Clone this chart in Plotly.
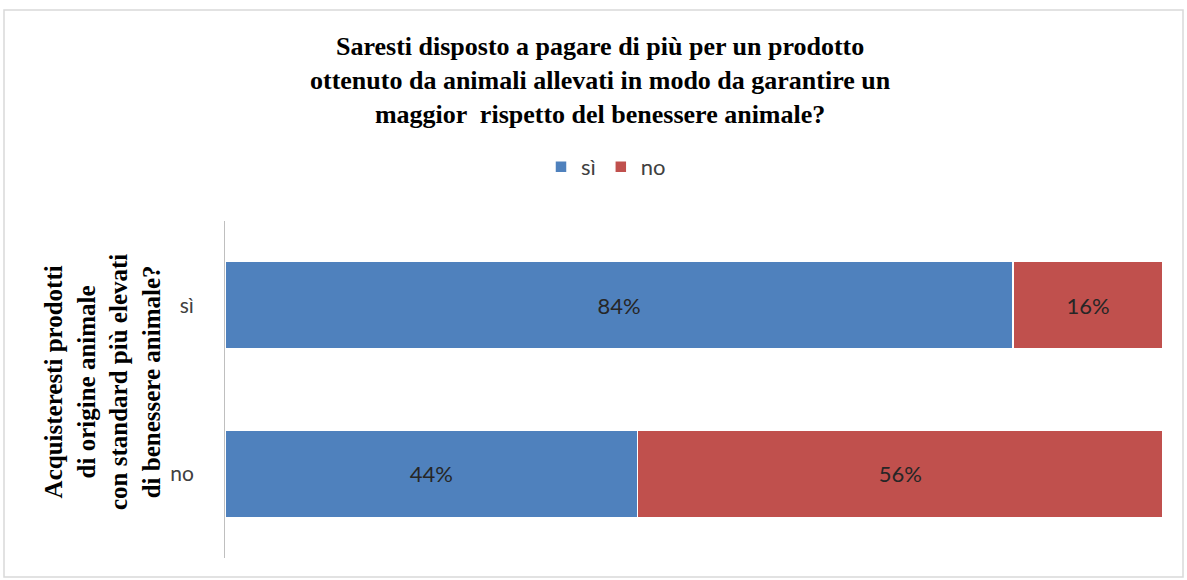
import plotly.graph_objects as go

categories = ["sì", "no"]
series_names = ["sì", "no"]
si_values = [84, 44]
no_values = [16, 56]
colors = {"sì": "#4F81BD", "no": "#C0504D"}

W, H = 1187, 580
L, R, T, B = 225, 24, 221, 22
pw = W - L - R
ph = H - T - B

SANS = "Lato, Liberation Sans, sans-serif"
SERIF = "Liberation Serif"

fig = go.Figure()
for name, vals in zip(series_names, [si_values, no_values]):
    fig.add_trace(go.Bar(
        y=categories, x=vals, name=name, orientation="h",
        marker=dict(color=colors[name], line=dict(color="white", width=1.5)),
        width=0.52,
        text=[f"{v}%" for v in vals], textposition="inside",
        insidetextanchor="middle",
        textfont=dict(family=SANS, size=22, color="#262626"),
        hoverinfo="skip",
    ))

def px_x(x):
    return (x - L) / pw

def px_y(y):
    return (H - B - y) / ph

fig.update_layout(
    width=W, height=H,
    barmode="stack",
    margin=dict(l=L, r=R, t=T, b=B, autoexpand=False),
    paper_bgcolor="white", plot_bgcolor="white",
    showlegend=True,
    legend=dict(orientation="h", x=px_x(606), xanchor="center", xref="paper",
                y=px_y(167), yanchor="middle",
                font=dict(family=SANS, size=22, color="#404040"),
                itemwidth=30, traceorder="normal", tracegroupgap=0),
    xaxis=dict(range=[0, 100], visible=False, fixedrange=True),
    yaxis=dict(range=[1.5, -0.5], showline=True, linecolor="#bfbfbf", linewidth=1,
               ticks="", showgrid=False, zeroline=False,
               tickfont=dict(family=SANS, size=21, color="#404040"),
               ticklabelstandoff=26),
    annotations=[
        dict(
            text="<b>Saresti disposto a pagare di più per un prodotto<br>ottenuto da animali allevati in modo da garantire un<br>maggior  rispetto del benessere animale?</b>",
            xref="paper", yref="paper", x=px_x(600), y=px_y(80),
            xanchor="center", yanchor="middle", showarrow=False, align="center",
            font=dict(family=SERIF, size=26, color="#000000"),
        ),
        dict(
            text="<b>Acquisteresti prodotti<br>di origine animale<br>con standard più elevati<br>di benessere animale?</b>",
            xref="paper", yref="paper", x=px_x(102), y=px_y(382),
            xanchor="center", yanchor="middle", textangle=-90, showarrow=False,
            font=dict(family=SERIF, size=25, color="#000000"),
        ),
    ],
    shapes=[dict(type="rect", xref="paper", yref="paper",
                 x0=px_x(4), x1=px_x(1183), y0=px_y(577), y1=px_y(10),
                 line=dict(color="#d9d9d9", width=1.5), fillcolor="rgba(0,0,0,0)", layer="below")],
)

fig.write_html("out.html")
